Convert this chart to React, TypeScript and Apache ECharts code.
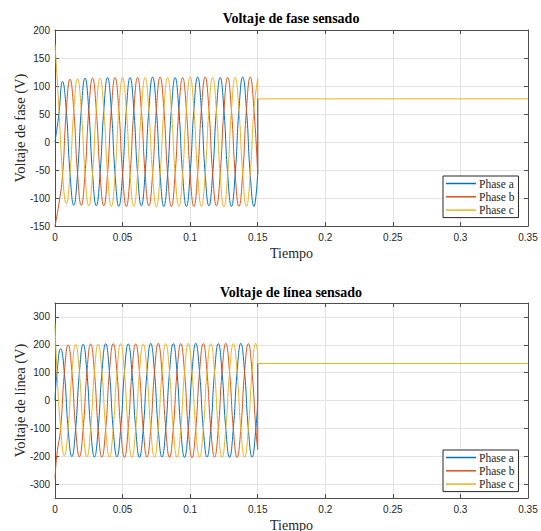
import React, { useEffect, useRef } from 'react';
import * as echarts from 'echarts';

// Legend entries and MATLAB-style line colours
const PHASE_NAMES = ['Phase a', 'Phase b', 'Phase c'];
const COLORS = ['#0072BD', '#D95319', '#EDB120'];

// Logged waveforms: one sample every 1/360 s (60 deg of a 60 Hz cycle)
const SAMPLE_STEP = 1 / 360;
const SWITCH_TIME = 0.15;
const END_TIME = 0.35;

// Phase voltages, samples at t = k * SAMPLE_STEP, k = 0..54
const PHASE_A = [
  0, 48, 108, 57, -56, -113,
  -57, 57, 114, 57, -57, -114,
  -57, 57, 115, 58, -57, -115,
  -58, 57, 115, 57, -57, -114,
  -57, 58, 116, 58, -57, -115,
  -57, 57, 115, 57, -58, -115,
  -57, 58, 116, 58, -57, -114,
  -57, 57, 115, 57, -58, -115,
  -57, 58, 116, 58, -57, -115,
  -57,
];
const PHASE_B = [
  -150, -112, -60, 55, 112, 57,
  -56, -113, -57, 57, 114, 57,
  -57, -114, -57, 57, 115, 58,
  -57, -115, -58, 57, 115, 57,
  -57, -114, -57, 58, 116, 58,
  -57, -115, -57, 57, 115, 57,
  -58, -115, -57, 58, 116, 58,
  -57, -114, -57, 57, 115, 57,
  -58, -115, -57, 58, 116, 58,
  -57,
];
const PHASE_C = [
  175, 65, -55, -110, -56, 56,
  113, 57, -57, -114, -57, 57,
  114, 57, -57, -115, -58, 57,
  115, 58, -57, -115, -57, 57,
  115, 57, -58, -116, -58, 57,
  115, 58, -57, -115, -57, 58,
  116, 58, -57, -115, -58, 57,
  115, 57, -58, -116, -58, 57,
  115, 57, -57, -115, -58, 58,
  114,
];
// Level held by the phases after the switching instant
const PHASE_HOLD = 77;

// Line voltages, samples at t = 0, t = (j + 0.5) * SAMPLE_STEP (j = 0..53), t = 0.15
const LINE_AB = [
  0,
  95, 186, 98, -101, -201, -101,
  101, 202, 101, -101, -203, -102,
  101, 204, 102, -102, -202, -101,
  102, 203, 101, -101, -204, -102,
  102, 205, 102, -102, -203, -101,
  101, 204, 102, -102, -204, -102,
  102, 205, 102, -101, -203, -102,
  101, 204, 102, -102, -204, -101,
  102, 205, 102, -102, -203, -101,
  0,
];
const LINE_BC = [
  -280,
  -195, -100, 100, 200, 101, -101,
  -202, -101, 101, 203, 102, -101,
  -203, -102, 102, 204, 101, -102,
  -204, -101, 101, 203, 102, -102,
  -203, -102, 102, 205, 102, -101,
  -204, -102, 101, 204, 102, -102,
  -205, -101, 102, 204, 101, -102,
  -203, -102, 102, 205, 102, -101,
  -204, -102, 101, 204, 102, -102,
  -176,
];
const LINE_CA = [
  275,
  110, -98, -198, -100, 101, 202,
  101, -101, -202, -101, 102, 203,
  102, -101, -203, -102, 101, 204,
  101, -102, -204, -101, 102, 203,
  102, -101, -203, -102, 101, 204,
  102, -102, -204, -101, 102, 205,
  101, -101, -203, -102, 102, 204,
  102, -102, -204, -101, 101, 204,
  102, -101, -203, -102, 102, 205,
  176,
];
const LINE_HOLD = 133;

// Axis ticks
const LINE_Y_TICKS = [-300, -200, -100, 0, 100, 200, 300];

const SERIF = '"Liberation Serif", "Times New Roman", serif';
const SANS = '"Liberation Sans", Arial, sans-serif';
const TEXT = '#262626';
const AXIS = '#4d4d4d';
const GRID_LINE = '#e3e3e3';

const phaseTimes = PHASE_A.map((_, k) => k * SAMPLE_STEP);
const lineTimes = [
  0,
  ...Array.from({ length: LINE_AB.length - 2 }, (_, j) => (j + 0.5) * SAMPLE_STEP),
  SWITCH_TIME,
];

const pairs = (times: number[], values: number[]) => values.map((v, i) => [times[i], v]);

// One waveform plus its step to the held level; only the last phase draws the
// flat segment so the overlapping held traces don't blend their colours.
function waveSeries(
  name: string,
  color: string,
  grid: number,
  times: number[],
  values: number[],
  hold: number,
  drawFlat: boolean
) {
  const base = {
    name,
    type: 'line',
    xAxisIndex: grid * 2,
    yAxisIndex: grid * 2,
    symbol: 'none',
    lineStyle: { color, width: 1 },
    itemStyle: { color },
    emphasis: { disabled: true },
  };
  const step = [
    [SWITCH_TIME, values[values.length - 1]],
    [SWITCH_TIME, hold],
  ];
  if (drawFlat) step.push([END_TIME, hold]);
  return [
    { ...base, smooth: 0.5, data: pairs(times, values) },
    { ...base, data: step },
  ];
}

function xAxes(grid: number) {
  const common = {
    type: 'value',
    gridIndex: grid,
    min: 0,
    max: END_TIME,
    interval: 0.05,
    axisLine: { show: true, onZero: false, lineStyle: { color: AXIS, width: 1 } },
    axisTick: { show: true, inside: true, length: 4, lineStyle: { color: AXIS } },
  };
  return [
    {
      ...common,
      position: 'bottom',
      axisLabel: { color: TEXT, fontFamily: SANS, fontSize: 10, margin: 6 },
      splitLine: { show: true, lineStyle: { color: GRID_LINE, width: 1 } },
      name: 'Tiempo',
      nameLocation: 'middle',
      nameGap: 20,
      nameMoveOverlap: false,
      nameTextStyle: { fontFamily: SERIF, fontSize: 14, color: TEXT },
    },
    {
      ...common,
      position: 'top',
      axisLabel: { show: false },
      splitLine: { show: false },
    },
  ];
}

function yAxes(grid: number, name: string, range: any, ticks?: number[]) {
  const common = {
    type: 'value',
    gridIndex: grid,
    ...range,
    axisLine: { show: true, onZero: false, lineStyle: { color: AXIS, width: 1 } },
  };
  const tick = { show: true, inside: true, length: 4, lineStyle: { color: AXIS }, ...(ticks ? { customValues: ticks } : {}) };
  return [
    {
      ...common,
      position: 'left',
      axisTick: tick,
      axisLabel: { color: TEXT, fontFamily: SANS, fontSize: 10, margin: 5, ...(ticks ? { customValues: ticks } : {}) },
      splitLine: { show: true, lineStyle: { color: GRID_LINE, width: 1 } },
      name,
      nameLocation: 'middle',
      nameGap: 28,
      nameMoveOverlap: false,
      nameTextStyle: { fontFamily: SERIF, fontSize: 14.5, color: TEXT },
    },
    {
      ...common,
      position: 'right',
      axisTick: tick,
      axisLabel: { show: false },
      splitLine: { show: false },
    },
  ];
}

function legend(top: number) {
  return {
    data: PHASE_NAMES,
    orient: 'vertical',
    left: 443,
    top,
    icon: 'rect',
    itemWidth: 30,
    itemHeight: 1.5,
    itemGap: 0.3,
    padding: [1, 4, 1, 3],
    backgroundColor: '#ffffff',
    borderColor: TEXT,
    borderWidth: 1,
    borderRadius: 0,
    selectedMode: false,
    textStyle: { fontFamily: SERIF, fontSize: 11.5, color: TEXT, lineHeight: 13, padding: [0, 0, 0, -2] },
  };
}

export default function App() {
  const ref = useRef<HTMLDivElement>(null);

  useEffect(() => {
    if (!ref.current) return;
    const chart = echarts.init(ref.current, undefined, { renderer: 'svg' });
    const series = [
      ...waveSeries('Phase a', COLORS[0], 0, phaseTimes, PHASE_A, PHASE_HOLD, false),
      ...waveSeries('Phase b', COLORS[1], 0, phaseTimes, PHASE_B, PHASE_HOLD, false),
      ...waveSeries('Phase c', COLORS[2], 0, phaseTimes, PHASE_C, PHASE_HOLD, true),
      ...waveSeries('Phase a', COLORS[0], 1, lineTimes, LINE_AB, LINE_HOLD, false),
      ...waveSeries('Phase b', COLORS[1], 1, lineTimes, LINE_BC, LINE_HOLD, false),
      ...waveSeries('Phase c', COLORS[2], 1, lineTimes, LINE_CA, LINE_HOLD, true),
    ];
    chart.setOption({
      animation: false,
      backgroundColor: '#ffffff',
      grid: [
        { left: 55, top: 30, width: 473, height: 196, outerBoundsMode: 'none' },
        { left: 55, top: 303, width: 473, height: 195, outerBoundsMode: 'none' },
      ],
      xAxis: [...xAxes(0), ...xAxes(1)],
      yAxis: [
        ...yAxes(0, 'Voltaje de fase (V)', { min: -150, max: 200, interval: 50 }),
        ...yAxes(1, 'Voltaje de línea (V)', { min: -350, max: 350 }, LINE_Y_TICKS),
      ],
      legend: [legend(176), legend(450)],
      graphic: [
        {
          type: 'text',
          x: 291,
          y: 18,
          style: { text: 'Voltaje de fase sensado', font: `bold 14px ${SERIF}`, fill: '#000', textAlign: 'center', textVerticalAlign: 'middle' },
        },
        {
          type: 'text',
          x: 291,
          y: 292,
          style: { text: 'Voltaje de línea sensado', font: `bold 14px ${SERIF}`, fill: '#000', textAlign: 'center', textVerticalAlign: 'middle' },
        },
      ],
      series,
    });
    return () => chart.dispose();
  }, []);

  return <div ref={ref} style={{ position: 'fixed', left: 0, top: 0, width: 541, height: 531 }} />;
}
